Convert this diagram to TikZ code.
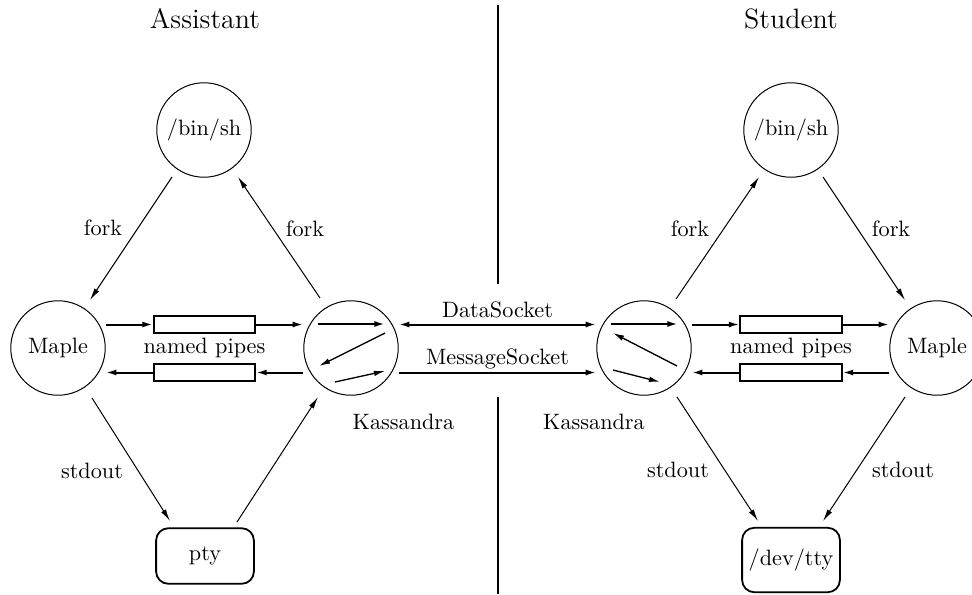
\documentclass[tikz,border=0pt]{standalone}
\usepackage{tikz}
\usetikzlibrary{arrows.meta,positioning,calc}

\tikzset{
  proc/.style={draw,circle,minimum size=42.5pt,inner sep=0pt,line width=0.45pt},
  term/.style={draw,rounded corners=5.5pt,minimum width=44pt,inner sep=0pt,line width=0.8pt},
  pipe/.style={draw,rectangle,minimum width=45.5pt,minimum height=7.6pt,inner sep=0pt,line width=0.9pt},
  flow/.style={line width=0.9pt,-{Latex[length=4.8pt,width=2.7pt]}},
  call/.style={line width=0.45pt,-{Latex[length=5.4pt,width=2.5pt]}},
  inner/.style={line width=0.6pt,-{Latex[length=5pt,width=2.5pt]}},
  lab/.style={anchor=base,inner sep=0pt},
}

\begin{document}
\begin{tikzpicture}[x=0.45pt,y=-0.45pt]
    \useasboundingbox (0,0) rectangle (972,594);

    % headings
    \node[lab] (assist) at (205,28) {\fontsize{12.6}{15}\selectfont Assistant};
    \node[lab] (stud) at (791,28) {\fontsize{12.6}{15}\selectfont Student};

    % dividing line
    \coordinate (DivTop) at (498,5);
    \coordinate (DivUp) at (498,284);
    \coordinate (DivLow) at (498,397);
    \coordinate (DivBot) at (498,594);
    \draw[line width=0.9pt] (DivTop) -- (DivUp);
    \draw[line width=0.9pt] (DivLow) -- (DivBot);

    % assistant side
    \node[proc] (bin1) at (204,130) {/bin/sh};
    \node[proc] (maple1) at (58,348) {Maple};
    \node[proc] (kas1) at (351,348) {};
    \node[term,minimum height=25pt] (pty) at (205,556) {pty};
    \node[pipe] (pipeA1) at (204.5,324.5) {};
    \node[pipe] (pipeA2) at (204.5,372.5) {};
    \node[lab] (namedA) at (204.5,353) {named pipes};
    \node[lab] (kasA) at (403.5,429) {Kassandra};

    \draw[flow] (maple1.east |- pipeA1) -- (pipeA1.west);
    \draw[flow] (pipeA1.east) -- (kas1.west |- pipeA1);
    \draw[flow] (kas1.west |- pipeA2) -- (pipeA2.east);
    \draw[flow] (pipeA2.west) -- (maple1.east |- pipeA2);

    \draw[flow] ($(kas1)+(-33,-24)$) -- ($(kas1)+(34,-24)$);
    \draw[inner] ($(kas1)+(34,-15)$) -- ($(kas1)+(-32,18)$);
    \draw[inner] ($(kas1)+(-16,34)$) -- ($(kas1)+(34,23)$);

    \draw[call] ($(bin1)+(-32,47)$) -- ($(maple1)+(32,-48)$);
    \draw[call] ($(kas1)+(-31,-50)$) -- ($(bin1)+(34,47)$);
    \draw[call] ($(maple1)+(34,50)$) -- ($(pty)+(-35,-35)$);
    \draw[call] ($(pty)+(32,-34)$) -- ($(kas1)+(-33,49)$);
    \node[lab] (forkA1) at (103,235) {fork};
    \node[lab] (forkA2) at (305,236) {fork};
    \node[lab] (outA) at (92,478) {stdout};

    % student side
    \node[proc] (bin2) at (791,130) {/bin/sh};
    \node[proc] (kas2) at (644,348) {};
    \node[proc] (maple2) at (937,348) {Maple};
    \node[term,minimum height=29pt] (tty) at (791,560) {/dev/tty};
    \node[pipe] (pipeB1) at (791,324.5) {};
    \node[pipe] (pipeB2) at (791,372.5) {};
    \node[lab] (namedB) at (791,353) {named pipes};
    \node[lab] (kasB) at (594,429) {Kassandra};

    \draw[flow] (kas2.east |- pipeB1) -- (pipeB1.west);
    \draw[flow] (pipeB1.east) -- (maple2.west |- pipeB1);
    \draw[flow] (maple2.west |- pipeB2) -- (pipeB2.east);
    \draw[flow] (pipeB2.west) -- (kas2.east |- pipeB2);

    \draw[flow] ($(kas2)+(-33,-24)$) -- ($(kas2)+(34,-24)$);
    \draw[inner] ($(kas2)+(33,18)$) -- ($(kas2)+(-31,-15)$);
    \draw[inner] ($(kas2)+(-31,22)$) -- ($(kas2)+(16,34)$);

    \draw[call] ($(kas2)+(32,-49)$) -- ($(bin2)+(-32,47)$);
    \draw[call] ($(bin2)+(32,47)$) -- ($(maple2)+(-32,-48)$);
    \draw[call] ($(kas2)+(33,49)$) -- ($(tty)+(-33,-39)$);
    \draw[call] ($(maple2)+(-32,49)$) -- ($(tty)+(32,-39)$);
    \node[lab] (forkB1) at (690,236) {fork};
    \node[lab] (forkB2) at (891,236) {fork};
    \node[lab] (outB1) at (678,477) {stdout};
    \node[lab] (outB2) at (903,477) {stdout};

    % sockets between the two Kassandras
    \draw[flow,{Latex[length=4.8pt,width=2.7pt]}-{Latex[length=4.8pt,width=2.7pt]}]
        (kas1.east |- pipeA1) -- (kas2.west |- pipeA1)
        node[lab,midway,yshift=3.2pt] (dsock) {DataSocket};
    \draw[flow] (kas1.east |- pipeA2) -- (kas2.west |- pipeA2)
        node[lab,midway,yshift=3.6pt] (msock) {MessageSocket};
\end{tikzpicture}
\end{document}
